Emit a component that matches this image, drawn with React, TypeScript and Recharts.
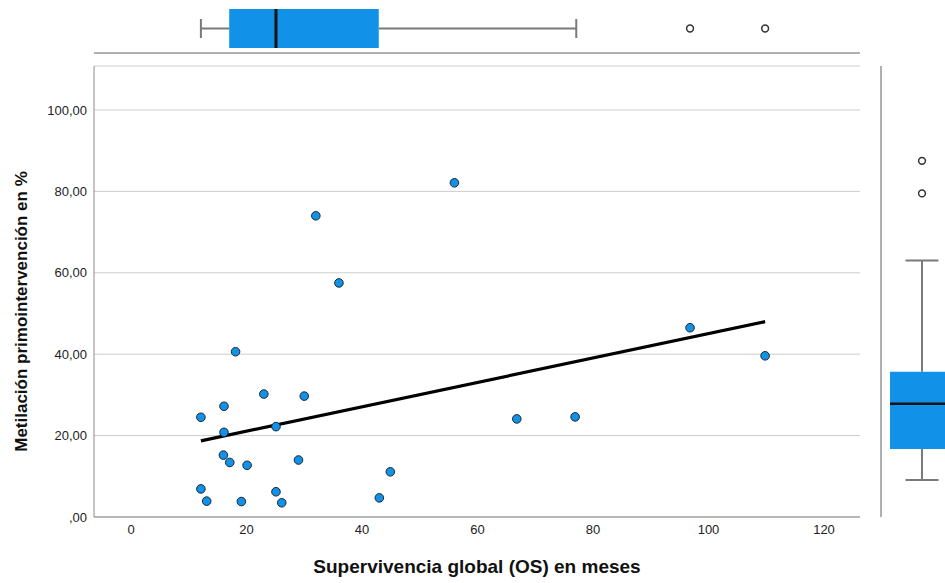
import React from 'react';
import {
  ComposedChart,
  Scatter,
  XAxis,
  YAxis,
  CartesianGrid,
  ReferenceLine,
  ReferenceArea,
} from 'recharts';

// ---- data ----
const survivalMonths = [
  12.1, 12.1, 13.1, 16.1, 16.1, 16.0, 17.1, 18.1, 19.1, 20.1, 23.0, 25.1, 25.1,
  26.1, 29.0, 30.0, 32.0, 36.0, 43.0, 44.9, 56.0, 66.8, 76.9, 96.8, 109.8,
];
const methylationPct = [
  24.5, 6.9, 3.9, 27.2, 20.8, 15.2, 13.4, 40.6, 3.8, 12.7, 30.2, 22.2, 6.2,
  3.5, 14.0, 29.7, 74.0, 57.5, 4.7, 11.1, 82.1, 24.1, 24.6, 46.5, 39.6,
];
const fitLineX = [12.1, 109.8];
const fitLineY = [18.7, 48.0];
const xTicks = [0, 20, 40, 60, 80, 100, 120];
const yTicks = [0, 20, 40, 60, 80, 100];
// box plot stats: [min whisker, Q1, median, Q3, max whisker]
const osBoxStats = [12.1, 17.0, 25.1, 42.9, 77.1];
const osOutliers = [96.8, 109.8];
const methBoxStats = [9.1, 16.7, 27.8, 35.7, 63.0];
const methOutliers = [79.5, 87.5];

const X_DOMAIN: [number, number] = [-6.41, 126.23];
const Y_DOMAIN: [number, number] = [0, 110.8];

const FONT = '"Liberation Sans", Arial, sans-serif';
const BLUE = '#1192e8';
const WHISKER = '#7a7a7a';
const PANEL_LINE = '#b0b0b0';

const scatterData = survivalMonths.map((x, i) => ({ x, y: methylationPct[i] }));
const osOutlierData = osOutliers.map((x) => ({ x, y: 0 }));
const methOutlierData = methOutliers.map((y) => ({ x: 0, y }));

const Dot = (p: any) => (
  <circle cx={p.cx} cy={p.cy} r={4.3} fill={BLUE} stroke="#1b2630" strokeWidth={1} />
);
const Outlier = (p: any) => (
  <circle cx={p.cx} cy={p.cy} r={3.4} fill="#fff" stroke="#333" strokeWidth={1.5} />
);

const fmtY = (v: number) => (v === 0 ? ',00' : v.toFixed(2).replace('.', ','));

const YTitle = (p: any) => {
  const vb = p.viewBox || { x: 0, y: 66, width: 94, height: 451 };
  const cx = vb.x + 21;
  const cy = vb.y + vb.height / 2 + 20;
  return (
    <text
      x={cx}
      y={cy}
      transform={`rotate(-90, ${cx}, ${cy})`}
      textAnchor="middle"
      dominantBaseline="central"
      fontFamily={FONT}
      fontWeight="bold"
      fontSize={17}
      fill="#111"
    >
      Metilación primointervención en %
    </text>
  );
};

// layout constants for the marginal box plots (units of their own hidden axes)
const TOP_BOX_HALF = 19.5;
const TOP_CAP_HALF = 9.5;
const TOP_BASE = -24.5;
const R_BOX_HALF = 32;
const R_CAP_HALF = 16.5;
const R_EDGE = -41;

export default function App() {
  const [oMin, oQ1, oMed, oQ3, oMax] = osBoxStats;
  const [mMin, mQ1, mMed, mQ3, mMax] = methBoxStats;
  return (
    <div style={{ position: 'absolute', left: 0, top: 0, width: 945, height: 583, background: '#fff', fontFamily: FONT }}>
      {/* main scatter */}
      <div style={{ position: 'absolute', left: 0, top: 0 }}>
        <ComposedChart width={945} height={583} margin={{ top: 66, right: 85, left: 0, bottom: 0 }}>
          <CartesianGrid vertical={false} stroke="#cdcdcd" />
          <XAxis
            type="number"
            dataKey="x"
            domain={X_DOMAIN}
            ticks={xTicks}
            allowDataOverflow
            tickLine={false}
            axisLine={{ stroke: '#8a8a8a' }}
            height={66}
            tick={{ fontSize: 13, fill: '#222', fontFamily: FONT }}
            label={{
              value: 'Supervivencia global (OS) en meses',
              position: 'insideBottom',
              offset: 10,
              style: { fontSize: 19, fontWeight: 'bold', fill: '#111', fontFamily: FONT },
            }}
          />
          <YAxis
            type="number"
            dataKey="y"
            domain={Y_DOMAIN}
            ticks={yTicks}
            allowDataOverflow
            width={94}
            tickLine={false}
            tickMargin={1}
            axisLine={{ stroke: '#8a8a8a' }}
            tickFormatter={fmtY}
            tick={{ fontSize: 13, fill: '#222', fontFamily: FONT }}
            label={<YTitle />}
          />
          <ReferenceLine
            segment={[
              { x: fitLineX[0], y: fitLineY[0] },
              { x: fitLineX[1], y: fitLineY[1] },
            ]}
            stroke="#000"
            strokeWidth={3.2}
            ifOverflow="visible"
          />
          <Scatter data={scatterData} dataKey="y" shape={Dot} isAnimationActive={false} />
        </ComposedChart>
      </div>

      {/* top box plot (OS) */}
      <div style={{ position: 'absolute', left: 0, top: 0 }}>
        <ComposedChart width={945} height={56} margin={{ top: 0, right: 85, left: 94, bottom: 0 }}>
          <XAxis type="number" dataKey="x" domain={X_DOMAIN} hide allowDataOverflow />
          <YAxis type="number" dataKey="y" domain={[-27.5, 28.5]} hide allowDataOverflow />
          <ReferenceLine y={TOP_BASE} stroke={PANEL_LINE} strokeWidth={2} ifOverflow="visible" />
          <ReferenceLine segment={[{ x: oMin, y: 0 }, { x: oQ1, y: 0 }]} stroke={WHISKER} strokeWidth={2} ifOverflow="visible" />
          <ReferenceLine segment={[{ x: oQ3, y: 0 }, { x: oMax, y: 0 }]} stroke={WHISKER} strokeWidth={2} ifOverflow="visible" />
          <ReferenceLine segment={[{ x: oMin, y: -TOP_CAP_HALF }, { x: oMin, y: TOP_CAP_HALF }]} stroke={WHISKER} strokeWidth={2} ifOverflow="visible" />
          <ReferenceLine segment={[{ x: oMax, y: -TOP_CAP_HALF }, { x: oMax, y: TOP_CAP_HALF }]} stroke={WHISKER} strokeWidth={2} ifOverflow="visible" />
          <ReferenceArea x1={oQ1} x2={oQ3} y1={-TOP_BOX_HALF} y2={TOP_BOX_HALF} fill={BLUE} fillOpacity={1} stroke="none" ifOverflow="visible" />
          <ReferenceLine segment={[{ x: oMed, y: -TOP_BOX_HALF }, { x: oMed, y: TOP_BOX_HALF }]} stroke="#111" strokeWidth={3} ifOverflow="visible" />
          <Scatter data={osOutlierData} dataKey="y" shape={Outlier} isAnimationActive={false} />
        </ComposedChart>
      </div>

      {/* right box plot (methylation) */}
      <div style={{ position: 'absolute', left: 860, top: 0 }}>
        <ComposedChart width={85} height={583} margin={{ top: 66, right: 0, left: 21, bottom: 66 }}>
          <XAxis type="number" dataKey="x" domain={[R_EDGE, 23]} hide allowDataOverflow />
          <YAxis type="number" dataKey="y" domain={Y_DOMAIN} hide allowDataOverflow />
          <ReferenceLine x={R_EDGE} stroke={PANEL_LINE} strokeWidth={2} ifOverflow="visible" />
          <ReferenceLine segment={[{ x: 0, y: mMin }, { x: 0, y: mQ1 }]} stroke={WHISKER} strokeWidth={2} ifOverflow="visible" />
          <ReferenceLine segment={[{ x: 0, y: mQ3 }, { x: 0, y: mMax }]} stroke={WHISKER} strokeWidth={2} ifOverflow="visible" />
          <ReferenceLine segment={[{ x: -R_CAP_HALF, y: mMin }, { x: R_CAP_HALF, y: mMin }]} stroke={WHISKER} strokeWidth={2} ifOverflow="visible" />
          <ReferenceLine segment={[{ x: -R_CAP_HALF, y: mMax }, { x: R_CAP_HALF, y: mMax }]} stroke={WHISKER} strokeWidth={2} ifOverflow="visible" />
          <ReferenceArea x1={-R_BOX_HALF} x2={R_BOX_HALF} y1={mQ1} y2={mQ3} fill={BLUE} fillOpacity={1} stroke="none" ifOverflow="visible" />
          <ReferenceLine segment={[{ x: -R_BOX_HALF, y: mMed }, { x: R_BOX_HALF, y: mMed }]} stroke="#111" strokeWidth={2.5} ifOverflow="visible" />
          <Scatter data={methOutlierData} dataKey="y" shape={Outlier} isAnimationActive={false} />
        </ComposedChart>
      </div>
    </div>
  );
}
